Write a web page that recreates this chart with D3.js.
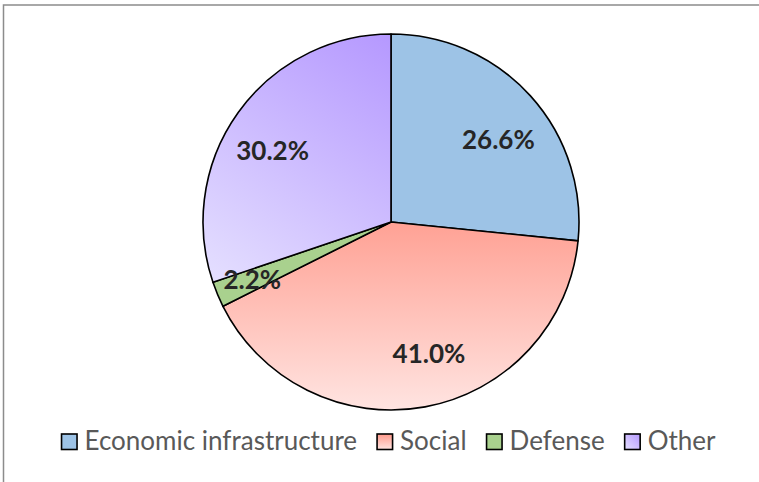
<!DOCTYPE html>
<html>
<head>
<meta charset="utf-8">
<script src="https://cdn.jsdelivr.net/npm/d3@7"></script>
<style>
  html, body { margin: 0; padding: 0; background: #fff; }
  svg { display: block; }
</style>
</head>
<body>
<svg id="chart" width="759" height="482"></svg>
<script>
const categories = ["Economic infrastructure", "Social", "Defense", "Other"];
const values = [26.6, 41.0, 2.2, 30.2];
const labels = ["26.6%", "41.0%", "2.2%", "30.2%"];

const W = 759, H = 482;
const cx = 391, cy = 222, R = 188;

const svg = d3.select("#chart");
const defs = svg.append("defs");

// gradients (userSpace relative to pie center)
const gSocial = defs.append("linearGradient").attr("id", "gSocial")
  .attr("gradientUnits", "userSpaceOnUse")
  .attr("x1", 0).attr("y1", -20).attr("x2", 0).attr("y2", R);
gSocial.append("stop").attr("offset", 0).attr("stop-color", "#ff9a8c");
gSocial.append("stop").attr("offset", 1).attr("stop-color", "#ffe4e1");

const gOther = defs.append("linearGradient").attr("id", "gOther")
  .attr("gradientUnits", "userSpaceOnUse")
  .attr("x1", -R * 0.95).attr("y1", R * 0.35).attr("x2", 0).attr("y2", -R);
gOther.append("stop").attr("offset", 0).attr("stop-color", "#e5e0ff");
gOther.append("stop").attr("offset", 1).attr("stop-color", "#b598ff");

// legend gradients (objectBoundingBox)
const lgSocial = defs.append("linearGradient").attr("id", "lgSocial")
  .attr("x1", 0).attr("y1", 0).attr("x2", 0).attr("y2", 1);
lgSocial.append("stop").attr("offset", 0).attr("stop-color", "#ff9a8c");
lgSocial.append("stop").attr("offset", 1).attr("stop-color", "#ffe4e1");
const lgOther = defs.append("linearGradient").attr("id", "lgOther")
  .attr("x1", 0).attr("y1", 1).attr("x2", 1).attr("y2", 0);
lgOther.append("stop").attr("offset", 0).attr("stop-color", "#e5e0ff");
lgOther.append("stop").attr("offset", 1).attr("stop-color", "#b598ff");

const fills = ["#9dc3e6", "url(#gSocial)", "#a9d18e", "url(#gOther)"];
const legendFills = ["#9dc3e6", "url(#lgSocial)", "#a9d18e", "url(#lgOther)"];

// frame
svg.append("rect")
  .attr("x", 3.5).attr("y", 5).attr("width", W + 10).attr("height", H + 10)
  .attr("fill", "none").attr("stroke", "#8c8c8c").attr("stroke-width", 1.5);

const data = categories.map((c, i) => ({ cat: c, value: values[i], label: labels[i], i }));

const pie = d3.pie().value(d => d.value).sort(null);
const arc = d3.arc().innerRadius(0).outerRadius(R);
const arcs = pie(data);

const g = svg.append("g").attr("transform", `translate(${cx},${cy})`);

g.selectAll("path.slice").data(arcs).join("path")
  .attr("class", "slice")
  .attr("d", arc)
  .attr("fill", d => fills[d.data.i])
  .attr("stroke", "#000")
  .attr("stroke-width", 1.6)
  .attr("stroke-linejoin", "round");

// label placement (best-fit style nudges, degrees and radius fraction)
const labelAngleNudge = [4.6, -5.6, 0, -4.6];
const labelRadiusFrac = [0.72, 0.73, 0.80, 0.735];

g.selectAll("text.lbl").data(arcs).join("text")
  .attr("class", "lbl")
  .attr("transform", d => {
    const i = d.data.i;
    const r = R * labelRadiusFrac[i];
    const a = (d.startAngle + d.endAngle) / 2 + labelAngleNudge[i] * Math.PI / 180;
    return `translate(${r * Math.sin(a)},${-r * Math.cos(a)})`;
  })
  .attr("text-anchor", "middle")
  .attr("dy", "0.35em")
  .attr("font-family", "Lato, 'Open Sans', sans-serif")
  .attr("font-weight", "bold")
  .attr("font-size", 26)
  .attr("fill", "#262626")
  .text(d => d.data.label);

// legend
const legend = svg.append("g");
const items = legend.selectAll("g.item").data(data).join("g").attr("class", "item");
items.append("rect")
  .attr("width", 15.5).attr("height", 15.5)
  .attr("y", -16)
  .attr("fill", d => legendFills[d.i])
  .attr("stroke", "#000").attr("stroke-width", 1.6);
items.append("text")
  .attr("x", 23)
  .attr("y", 0)
  .attr("font-family", "Lato, 'Open Sans', sans-serif")
  .attr("font-size", 26)
  .attr("fill", "#595959")
  .text(d => d.cat);

let x = 0;
const gap = 20;
const positions = [];
items.each(function (d) {
  const tw = d3.select(this).select("text").node().getComputedTextLength();
  positions.push(x);
  x += 23 + tw + gap;
});
const total = x - gap;
const startX = 388.5 - total / 2;
items.attr("transform", (d, i) => `translate(${startX + positions[i]},${450})`);
</script>
</body>
</html>
